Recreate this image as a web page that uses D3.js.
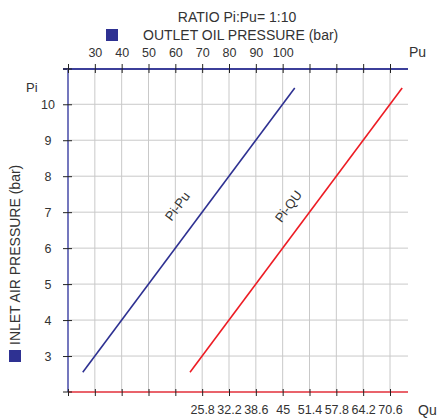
<!DOCTYPE html>
<html>
<head>
<meta charset="utf-8">
<script src="https://cdn.jsdelivr.net/npm/d3@7"></script>
<style>
  body { margin: 0; background: #fff; }
  svg text { font-family: "Liberation Sans", Arial, sans-serif; fill: #333; }
</style>
</head>
<body>
<svg width="442" height="419"></svg>
<script>
const width = 442;
const height = 419;

// data
const piValues = [2.55, 10.45];          // inlet air pressure (bar)
const puValues = [25.5, 104.5];          // outlet oil pressure Pu (bar)
const quValues = [22.9, 73.5];           // Qu
const puTicks = [20, 30, 40, 50, 60, 70, 80, 90, 100, 110, 120, 130, 140];
const puLabels = [30, 40, 50, 60, 70, 80, 90, 100];
const quTicks = [-6.2, 0.2, 6.6, 13, 19.4, 25.8, 32.2, 38.6, 45, 51.4, 57.8, 64.2, 70.6];
const quLabels = [25.8, 32.2, 38.6, 45, 51.4, 57.8, 64.2, 70.6];
const piTicks = [3, 4, 5, 6, 7, 8, 9, 10];

const plotLeft = 68, plotRight = 408, plotTop = 69, plotBottom = 392;

const x = d3.scaleLinear().domain([20, 140]).range([plotLeft, 390]);
const xq = d3.scaleLinear().domain([25.8, 70.6]).range([x(70), x(140)]);
const y = d3.scaleLinear().domain([2, 11]).range([plotBottom, 68.3]);

const svg = d3.select("svg");

// grid
svg.append("g")
    .attr("stroke", "#c9c9c9")
    .attr("stroke-width", 1)
  .selectAll("line")
  .data(puTicks.slice(1))
  .join("line")
    .attr("x1", d => x(d)).attr("x2", d => x(d))
    .attr("y1", plotTop).attr("y2", plotBottom);

svg.append("g")
    .attr("stroke", "#c9c9c9")
    .attr("stroke-width", 1)
  .selectAll("line")
  .data(piTicks)
  .join("line")
    .attr("x1", plotLeft).attr("x2", plotRight)
    .attr("y1", d => y(d)).attr("y2", d => y(d));

// axis lines
svg.append("line")
    .attr("x1", 63).attr("x2", plotRight).attr("y1", plotTop).attr("y2", plotTop)
    .attr("stroke", "#3c3f9a").attr("stroke-width", 2);
svg.append("line")
    .attr("x1", plotLeft).attr("x2", plotLeft).attr("y1", plotTop).attr("y2", plotBottom)
    .attr("stroke", "#7477bd").attr("stroke-width", 2);
svg.append("line")
    .attr("x1", plotLeft).attr("x2", plotRight).attr("y1", plotBottom).attr("y2", plotBottom)
    .attr("stroke", "#e9636b").attr("stroke-width", 2);

// top axis (Pu)
const topAxis = svg.append("g")
    .attr("transform", `translate(0,${plotTop})`)
    .call(d3.axisTop(x).tickValues(puTicks).tickSizeOuter(0)
      .tickFormat(d => puLabels.includes(d) ? d : ""));
topAxis.select(".domain").remove();
topAxis.selectAll(".tick line").attr("y1", -5).attr("y2", 4).attr("stroke", "#222");
topAxis.selectAll("text").attr("y", -12).attr("dy", 0)
    .attr("font-size", 12.5).attr("fill", "#333");

// bottom axis (Qu)
const botAxis = svg.append("g")
    .attr("transform", `translate(0,${plotBottom})`)
    .call(d3.axisBottom(xq).tickValues(quTicks).tickSizeOuter(0)
      .tickFormat(d => quLabels.includes(d) ? d : ""));
botAxis.select(".domain").remove();
botAxis.selectAll(".tick line").attr("y1", -3).attr("y2", 4).attr("stroke", "#222");
botAxis.selectAll("text").attr("y", 22).attr("dy", 0)
    .attr("font-size", 12.5).attr("fill", "#333");

// left axis (Pi)
const leftAxis = svg.append("g")
    .attr("transform", `translate(${plotLeft},0)`)
    .call(d3.axisLeft(y).tickValues(piTicks).tickSizeOuter(0));
leftAxis.select(".domain").remove();
leftAxis.selectAll(".tick line").attr("x1", -5).attr("x2", 4).attr("stroke", "#222");
leftAxis.selectAll("text").attr("x", -20).attr("text-anchor", "middle")
    .attr("font-size", 12.5).attr("fill", "#333");

// corner ticks
svg.append("line").attr("x1", 63).attr("x2", 72).attr("y1", plotTop).attr("y2", plotTop)
    .attr("stroke", "#222");
svg.append("line").attr("x1", 63).attr("x2", 72).attr("y1", plotBottom).attr("y2", plotBottom)
    .attr("stroke", "#222");

// curves
const pts = piValues.map((p, i) => ({ pi: p, pu: puValues[i], qu: quValues[i] }));
svg.append("path")
    .datum(pts)
    .attr("fill", "none")
    .attr("stroke", "#2e3192")
    .attr("stroke-width", 1.6)
    .attr("d", d3.line().x(d => x(d.pu)).y(d => y(d.pi)));
svg.append("path")
    .datum(pts)
    .attr("fill", "none")
    .attr("stroke", "#ed1c24")
    .attr("stroke-width", 1.6)
    .attr("d", d3.line().x(d => xq(d.qu)).y(d => y(d.pi)));

const angle = Math.atan2(y(10) - y(3), x(100) - x(30)) * 180 / Math.PI;
svg.append("text")
    .attr("transform", `translate(181,209) rotate(${angle})`)
    .attr("text-anchor", "middle")
    .attr("font-size", 13)
    .text("Pi-Pu");
svg.append("text")
    .attr("transform", `translate(292,209) rotate(${angle})`)
    .attr("text-anchor", "middle")
    .attr("font-size", 13)
    .text("Pi-QU");

// titles
svg.append("text")
    .attr("x", 237).attr("y", 22)
    .attr("text-anchor", "middle")
    .attr("font-size", 14)
    .text("RATIO Pi:Pu= 1:10");
svg.append("rect")
    .attr("x", 106).attr("y", 29).attr("width", 12).attr("height", 12)
    .attr("fill", "#2e3192");
svg.append("text")
    .attr("x", 143).attr("y", 40)
    .attr("font-size", 14)
    .text("OUTLET OIL PRESSURE (bar)");
svg.append("text")
    .attr("x", 409).attr("y", 57)
    .attr("font-size", 14)
    .text("Pu");
svg.append("text")
    .attr("x", 418).attr("y", 415)
    .attr("font-size", 14)
    .text("Qu");
svg.append("text")
    .attr("x", 26).attr("y", 92)
    .attr("font-size", 13)
    .text("Pi");
svg.append("rect")
    .attr("x", 9).attr("y", 350).attr("width", 12).attr("height", 12)
    .attr("fill", "#2e3192");
svg.append("text")
    .attr("transform", "translate(20,345) rotate(-90)")
    .attr("font-size", 14)
    .text("INLET AIR PRESSURE (bar)");
</script>
</body>
</html>
